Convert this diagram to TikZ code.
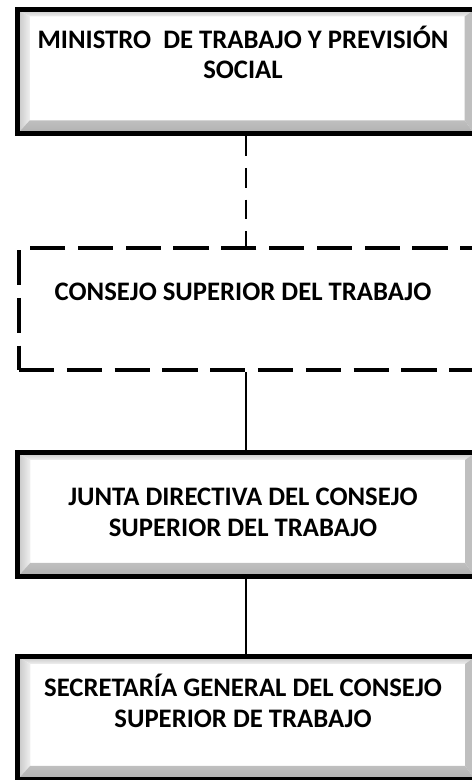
\documentclass[tikz,border=0pt]{standalone}
\usepackage{fontspec}
\setmainfont{Carlito}
\begin{document}
\begin{tikzpicture}[
  orgbox/.style={draw,line width=3.5pt,fill=white,anchor=north west,minimum width=11.42cm,inner sep=0pt,
    path picture={
      \coordinate (bsw) at (path picture bounding box.south west);\coordinate (bnw) at (path picture bounding box.north west);
      \coordinate (bse) at (path picture bounding box.south east);\coordinate (bne) at (path picture bounding box.north east);
      \shade[left color=gray!45,right color=gray!12] (bsw) -- (bnw) -- ([shift={(.31,-.175)}]bnw) -- ([shift={(.31,.34)}]bsw) -- cycle;
      \shade[top color=gray!45,bottom color=gray!12] (bnw) -- (bne) -- ([shift={(-.24,-.175)}]bne) -- ([shift={(.31,-.175)}]bnw) -- cycle;
      \fill[gray!50] (bne) -- (bse) -- ([shift={(-.24,.34)}]bse) -- ([shift={(-.24,-.175)}]bne) -- cycle;
      \shade[top color=gray!50,bottom color=gray!62] (bsw) -- (bse) -- ([shift={(-.24,.34)}]bse) -- ([shift={(.31,.34)}]bsw) -- cycle;
    }},
  dashbox/.style={draw,line width=2.8pt,dash pattern=on 25pt off 9pt,fill=white,anchor=north west,minimum width=11.6cm,inner sep=0pt},
  lbl/.style={font=\bfseries\fontsize{19}{22}\selectfont,align=center},
  link/.style={line width=1.6pt}
]
\useasboundingbox (0,0) rectangle (11.8,19.5);
\clip (0,0) rectangle (11.8,19.5);
\coordinate (axis) at (6.15,0);
\node[orgbox,minimum height=3.11cm] at (0.375,19.325) (min) {};
\node[dashbox,minimum height=3.05cm] at (0.425,13.3375) (cons) {};
\node[orgbox,minimum height=3.09cm] at (0.385,8.2375) (junta) {};
\node[orgbox,minimum height=3.06cm] at (0.385,3.1375) (secr) {};
\node[lbl] at (6.075,18.19) (mintxt) {MINISTRO~ DE TRABAJO Y PREVISIÓN\\SOCIAL};
\node[lbl] at (6.075,12.2) (constxt) {CONSEJO SUPERIOR DEL TRABAJO};
\node[lbl] at (6.075,6.69) (juntatxt) {JUNTA DIRECTIVA DEL CONSEJO\\SUPERIOR DEL TRABAJO};
\node[lbl] at (6.075,1.975) (secrtxt) {SECRETARÍA GENERAL DEL CONSEJO\\SUPERIOR DE TRABAJO};
\draw[link,line width=2pt,dash pattern=on 14pt off 8.5pt] (min.south -| axis) -- (cons.north -| axis);
\draw[link] (cons.south -| axis) -- (junta.north -| axis);
\draw[link] (junta.south -| axis) -- (secr.north -| axis);
\end{tikzpicture}
\end{document}
